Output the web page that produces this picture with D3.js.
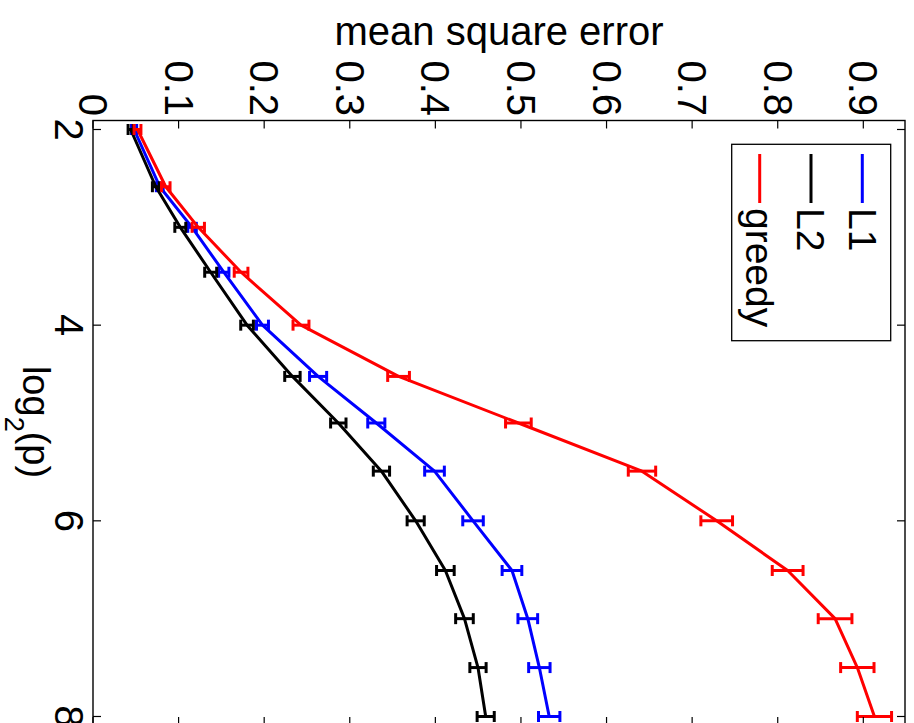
<!DOCTYPE html>
<html>
<head>
<meta charset="utf-8">
<script src="https://cdn.jsdelivr.net/npm/d3@7"></script>
<style>
  html, body { margin: 0; padding: 0; background: #fff; }
  svg { display: block; font-family: "Liberation Sans", Arial, Helvetica, sans-serif; }
</style>
</head>
<body>
<script>
// log2(p) positions of the points
const log2p = [2, 2.585, 3, 3.459, 4, 4.524, 5, 5.492, 6, 6.508, 7, 7.5, 8];
// mean square error values
const mseL1 = [0.048, 0.078, 0.1157, 0.1528, 0.198, 0.263, 0.331, 0.399, 0.444, 0.4895, 0.508, 0.5215, 0.533];
const errL1 = [0.003, 0.004, 0.005, 0.006, 0.007, 0.010, 0.010, 0.0115, 0.012, 0.0115, 0.0115, 0.0125, 0.0125];
const mseL2 = [0.044, 0.0734, 0.102, 0.1375, 0.180, 0.233, 0.2866, 0.337, 0.377, 0.4117, 0.434, 0.4498, 0.4588];
const errL2 = [0.003, 0.004, 0.0064, 0.007, 0.0074, 0.009, 0.009, 0.0095, 0.010, 0.0103, 0.0103, 0.0095, 0.010];
const mseGreedy = [0.052, 0.085, 0.123, 0.173, 0.243, 0.357, 0.497, 0.6414, 0.7287, 0.8116, 0.867, 0.893, 0.913];
const errGreedy = [0.004, 0.005, 0.0072, 0.008, 0.0093, 0.0127, 0.015, 0.016, 0.0185, 0.018, 0.0197, 0.0195, 0.020];
const seriesNames = ["L1", "L2", "greedy"];
const seriesColors = ["#0000ff", "#000000", "#ff0000"];
const mseTicks = [0, 0.1, 0.2, 0.3, 0.4, 0.5, 0.6, 0.7, 0.8, 0.9];
const mseTickLabels = ["0", "0.1", "0.2", "0.3", "0.4", "0.5", "0.6", "0.7", "0.8", "0.9"];
const pTicks = [2, 4, 6, 8];
const pTickLabels = ["2", "4", "6", "8"];
const mseLimits = [0, 0.9487];
const pLimits = [1.908, 8.087];

const W = 914, H = 723;
const frame = { left: 93, right: 905, top: 120.5, bottom: 725 };

const series = seriesNames.map((name, i) => ({
  name, color: seriesColors[i],
  values: [mseL1, mseL2, mseGreedy][i],
  errs: [errL1, errL2, errGreedy][i]
}));

const svg = d3.select("body").append("svg").attr("width", W).attr("height", H);

// horizontal: mean square error ; vertical: log2(p) (chart rotated 90° clockwise)
const x = d3.scaleLinear().domain(mseLimits).range([frame.left, frame.right]);
const y = d3.scaleLinear().domain(pLimits).range([frame.top, frame.bottom]);

const plot = svg.append("g");

// data lines and error bars
const line = d3.line().x(d => x(d.v)).y(d => y(d.p));
series.forEach(s => {
  const pts = log2p.map((p, i) => ({ p, v: s.values[i], e: s.errs[i] }));
  const g = plot.append("g");
  g.append("path").datum(pts).attr("d", line)
    .attr("fill", "none").attr("stroke", s.color).attr("stroke-width", 3)
    .attr("stroke-linejoin", "round");
  const eb = g.selectAll("g.eb").data(pts).join("g").attr("class", "eb")
    .attr("stroke", s.color).attr("stroke-width", 3);
  eb.append("line")
    .attr("x1", d => x(d.v - d.e)).attr("x2", d => x(d.v + d.e))
    .attr("y1", d => y(d.p)).attr("y2", d => y(d.p));
  eb.append("line")
    .attr("x1", d => x(d.v - d.e)).attr("x2", d => x(d.v - d.e))
    .attr("y1", d => y(d.p) - 5.5).attr("y2", d => y(d.p) + 5.5);
  eb.append("line")
    .attr("x1", d => x(d.v + d.e)).attr("x2", d => x(d.v + d.e))
    .attr("y1", d => y(d.p) - 5.5).attr("y2", d => y(d.p) + 5.5);
});

// frame
svg.append("rect")
  .attr("x", frame.left).attr("y", frame.top)
  .attr("width", frame.right - frame.left).attr("height", frame.bottom - frame.top)
  .attr("fill", "none").attr("stroke", "#000").attr("stroke-width", 1.4);

// ticks (inward, both sides)
const tickLen = 8;
const tg = svg.append("g").attr("stroke", "#000").attr("stroke-width", 1.2);
mseTicks.forEach(v => {
  tg.append("line").attr("x1", x(v)).attr("x2", x(v)).attr("y1", frame.top).attr("y2", frame.top + tickLen);
  tg.append("line").attr("x1", x(v)).attr("x2", x(v)).attr("y1", frame.bottom).attr("y2", frame.bottom - tickLen);
});
pTicks.forEach(p => {
  tg.append("line").attr("x1", frame.left).attr("x2", frame.left + tickLen).attr("y1", y(p)).attr("y2", y(p));
  tg.append("line").attr("x1", frame.right).attr("x2", frame.right - tickLen).attr("y1", y(p)).attr("y2", y(p));
});

// top tick labels (rotated)
svg.append("g").selectAll("text").data(mseTicks).join("text")
  .attr("transform", d => `translate(${x(d)},116) rotate(90)`)
  .attr("text-anchor", "end").attr("dy", "0.35em")
  .attr("font-size", 40).attr("fill", "#000")
  .text((d, i) => mseTickLabels[i]);

// left tick labels (rotated)
svg.append("g").selectAll("text").data(pTicks).join("text")
  .attr("transform", d => `translate(55,${y(d)}) rotate(90)`)
  .attr("text-anchor", "middle")
  .attr("font-size", 40).attr("fill", "#000")
  .text((d, i) => pTickLabels[i]);

// axis titles
svg.append("text")
  .attr("x", (frame.left + frame.right) / 2).attr("y", 45)
  .attr("text-anchor", "middle").attr("font-size", 40).attr("fill", "#000")
  .text("mean square error");

const xl = svg.append("text")
  .attr("transform", `translate(23,422) rotate(90)`)
  .attr("text-anchor", "middle").attr("font-size", 38).attr("fill", "#000");
xl.append("tspan").text("log");
xl.append("tspan").attr("font-size", 27).attr("dy", 18).text("2");
xl.append("tspan").attr("dy", -18).text("(p)");

// legend
const leg = svg.append("g");
leg.append("rect").attr("x", 731.7).attr("y", 144.3).attr("width", 159).attr("height", 196.4)
  .attr("fill", "#fff").attr("stroke", "#000").attr("stroke-width", 1.3);
series.forEach((s, i) => {
  const cx = 862.3 - i * 51.3;
  leg.append("line").attr("x1", cx).attr("x2", cx).attr("y1", 154).attr("y2", 203)
    .attr("stroke", s.color).attr("stroke-width", 3);
  leg.append("text")
    .attr("transform", `translate(${cx},208) rotate(90)`)
    .attr("dy", "0.35em").attr("font-size", 39).attr("fill", "#000")
    .text(s.name);
});
</script>
</body>
</html>
